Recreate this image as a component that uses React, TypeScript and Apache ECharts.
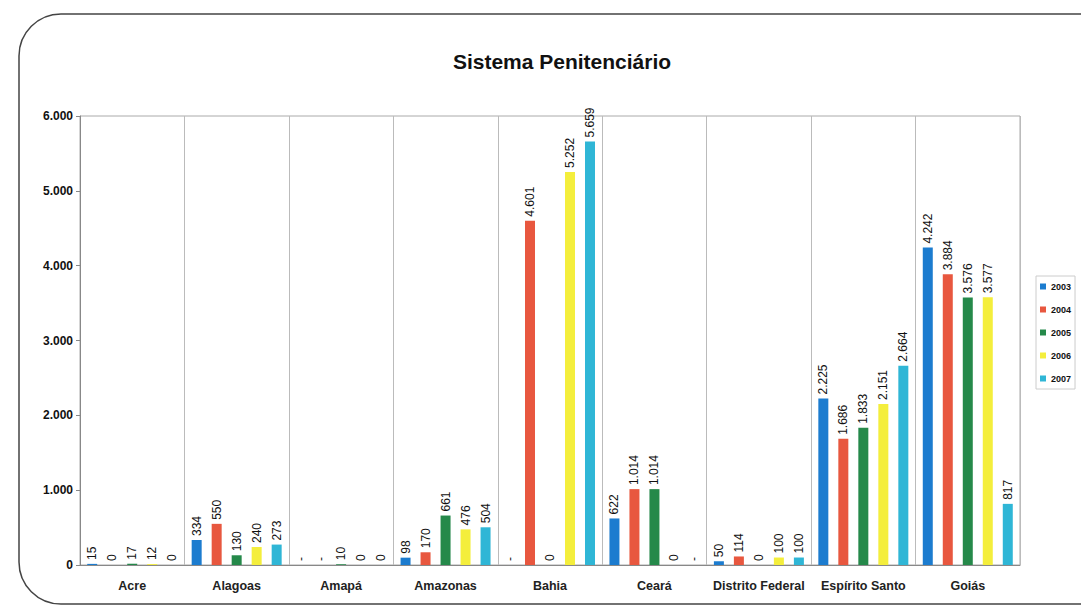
import React, { useEffect, useRef } from "react";
import * as echarts from "echarts";

const categories = ["Acre", "Alagoas", "Amapá", "Amazonas", "Bahia", "Ceará", "Distrito Federal", "Espírito Santo", "Goiás"];
const years = ["2003", "2004", "2005", "2006", "2007"];
const s2003 = [15, 334, null, 98, null, 622, 50, 2225, 4242];
const s2004 = [0, 550, null, 170, 4601, 1014, 114, 1686, 3884];
const s2005 = [17, 130, 10, 661, 0, 1014, 0, 1833, 3576];
const s2006 = [12, 240, 0, 476, 5252, 0, 100, 2151, 3577];
const s2007 = [0, 273, 0, 504, 5659, null, 100, 2664, 817];
const yTicks = [0, 1000, 2000, 3000, 4000, 5000, 6000];
const colors = ["#1c7ccf", "#e8573f", "#25894a", "#f4ee3c", "#2fb6d6"];

const fmt = (v: number) => String(v).replace(/\B(?=(\d{3})+(?!\d))/g, ".");

export default function App() {
  const ref = useRef<HTMLDivElement>(null);
  useEffect(() => {
    const chart = echarts.init(ref.current!, null, { renderer: "svg" });
    const all = [s2003, s2004, s2005, s2006, s2007];
    const font = "Liberation Sans, Arial, sans-serif";
    chart.setOption({
      animation: false,
      backgroundColor: "#ffffff",
      textStyle: { fontFamily: font },
      title: {
        text: "Sistema Penitenciário",
        left: 557,
        top: 46,
        textAlign: "center",
        textStyle: { fontSize: 21, fontWeight: "bold", color: "#111", fontFamily: font },
      },
      graphic: [
        {
          type: "rect",
          shape: { x: 19, y: 14, width: 1110, height: 590, r: 42 },
          style: { fill: "none", stroke: "#444", lineWidth: 1.5 },
          silent: true,
        },
      ],
      legend: {
        orient: "vertical",
        left: 1036,
        top: 276,
        data: years,
        itemWidth: 6,
        itemHeight: 6,
        itemGap: 14,
        icon: "rect",
        borderColor: "#ccc",
        borderWidth: 1,
        padding: [6, 4, 6, 4],
        textStyle: { fontSize: 9, fontWeight: "bold", color: "#111", fontFamily: font },
      },
      grid: {
        left: 80,
        right: 61,
        top: 116,
        bottom: 45,
        show: true,
        borderColor: "#aaa",
        borderWidth: 1,
      },
      xAxis: {
        type: "category",
        data: categories,
        axisLine: { lineStyle: { color: "#888" } },
        axisTick: { show: false },
        splitLine: { show: true, lineStyle: { color: "#bbb" } },
        axisLabel: { fontSize: 12.5, fontWeight: "bold", color: "#222", margin: 14, interval: 0 },
      },
      yAxis: {
        type: "value",
        min: yTicks[0],
        max: yTicks[yTicks.length - 1],
        interval: 1000,
        axisLine: { show: true, lineStyle: { color: "#888" } },
        axisTick: { show: true, length: 4, lineStyle: { color: "#888" } },
        splitLine: { show: false },
        axisLabel: { fontSize: 12, fontWeight: "bold", color: "#111", formatter: (v: number) => fmt(v), margin: 7 },
      },
      series: years.map((y, i) => ({
        name: y,
        type: "bar",
        barWidth: 10,
        barGap: "100%",
        itemStyle: { color: colors[i] },
        label: {
          show: true,
          position: "top",
          rotate: 90,
          align: "left",
          verticalAlign: "middle",
          distance: 4,
          fontSize: 12,
          color: "#111",
          formatter: (p: any) => fmt(p.value),
        },
        data: all[i].map((v) =>
          v === null ? { value: 0, label: { formatter: "-" } } : v
        ),
      })),
    });
    return () => chart.dispose();
  }, []);
  return <div ref={ref} style={{ position: "fixed", left: 0, top: 0, width: 1081, height: 610 }} />;
}
